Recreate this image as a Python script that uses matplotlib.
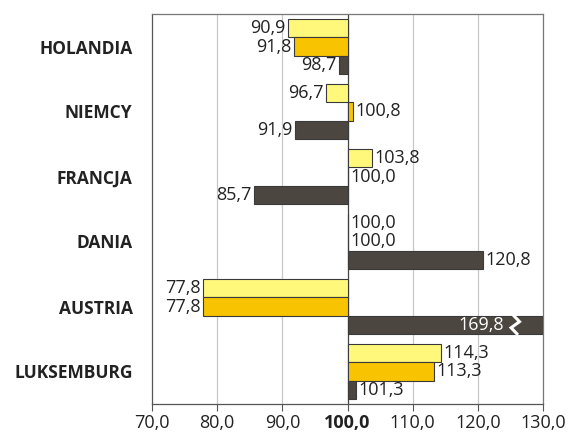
import numpy as np
import matplotlib
matplotlib.use("Agg")
import matplotlib.pyplot as plt

plt.rcParams['font.family'] = ['Open Sans', 'DejaVu Sans']

kraje = ["HOLANDIA", "NIEMCY", "FRANCJA", "DANIA", "AUSTRIA", "LUKSEMBURG"]
seria_1 = [90.9, 96.7, 103.8, 100.0, 77.8, 114.3]
seria_2 = [91.8, 100.8, 100.0, 100.0, 77.8, 113.3]
seria_3 = [98.7, 91.9, 85.7, 120.8, 169.8, 101.3]
ticki = [70, 80, 90, 100, 110, 120, 130]

kolory = ["#FFF87A", "#F8C300", "#4B463F"]
baza = 100.0
xmin, xmax = 70, 130

fig = plt.figure(figsize=(5.69, 4.33), dpi=100)
ax = fig.add_axes([152/569, 29/433, 391/569, 390/433])

n = len(kraje)
y = np.arange(n)
h = 0.28
for k, (vals, kol) in enumerate(zip([seria_1, seria_2, seria_3], kolory)):
    yy = y + (k - 1) * h
    ax.barh(yy, np.array(vals) - baza, left=baza, height=h, color=kol,
            edgecolor="#3a3a3a", linewidth=0.8, zorder=3)
    for yi, v in zip(yy, vals):
        txt = f"{v:.1f}".replace(".", ",")
        if v > xmax:
            # wartosc poza skala - przerwanie slupka
            xb = xmax - 4.5
            ax.text(xb - 1.5, yi, txt, ha="right", va="center", color="white",
                    fontsize=13, zorder=5)
            zy = [yi - h/2, yi - h/6, yi + h/6, yi + h/2]
            zx = [xb, xb + 0.9, xb - 0.4, xb + 0.5]
            ax.plot(zx, zy, color="white", lw=2.2, zorder=4, solid_joinstyle="miter")
        elif v < baza:
            ax.text(v - 0.4, yi, txt, ha="right", va="center", fontsize=13,
                    color="#222222", zorder=5)
        else:
            ax.text(v + 0.4, yi, txt, ha="left", va="center", fontsize=13,
                    color="#222222", zorder=5)

ax.set_xlim(xmin, xmax)
ax.set_ylim(n - 0.5, -0.5)
ax.set_xticks(ticki)
ax.set_xticklabels([f"{t:.1f}".replace(".", ",") for t in ticki], fontsize=13,
                   color="#222222")
for lab in ax.get_xticklabels():
    if lab.get_text() == "100,0":
        lab.set_fontweight("bold")
ax.set_yticks(y)
ax.set_yticklabels(kraje, fontsize=12.5, fontweight="bold", color="#222222")
ax.tick_params(axis="y", length=0, pad=14)
ax.tick_params(axis="x", length=5, width=0.8, color="#555555", direction="out", pad=2)

for t in ticki[1:-1]:
    if t != baza:
        ax.axvline(t, color="#c8c8c8", lw=0.9, zorder=1)
ax.axvline(baza, color="#444444", lw=0.9, zorder=2)

for s in ["top", "right"]:
    ax.spines[s].set_color("#777777")
    ax.spines[s].set_linewidth(0.9)
for s in ["left", "bottom"]:
    ax.spines[s].set_color("#555555")
    ax.spines[s].set_linewidth(0.9)

fig.savefig("out.png", dpi=100)
